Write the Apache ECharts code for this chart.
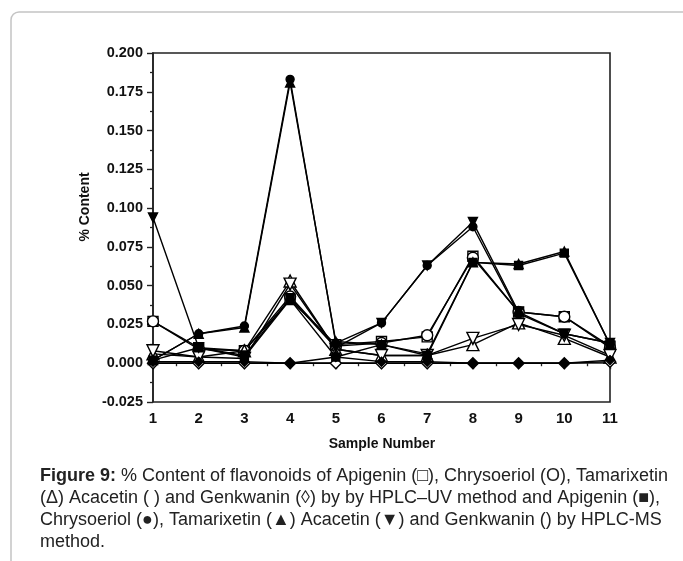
<!DOCTYPE html>
<html><head><meta charset="utf-8">
<script src="https://cdn.jsdelivr.net/npm/echarts@6/dist/echarts.min.js"></script>
<style>html,body{margin:0;padding:0;background:#fff}#c{width:683px;height:561px}</style>
</head><body><div id="c"></div><script>
const samples = [1, 2, 3, 4, 5, 6, 7, 8, 9, 10, 11];
// HPLC-UV (open markers)
const uvApigenin    = [0.027, 0.010, 0.008, 0.041, 0.012, 0.014, 0.017, 0.069, 0.033, 0.030, 0.011];
const uvChrysoeriol = [0.027, 0.009, 0.008, 0.043, 0.011, 0.013, 0.018, 0.068, 0.033, 0.030, 0.010];
const uvTamarixetin = [0.006, 0.004, 0.008, 0.053, 0.009, 0.005, 0.005, 0.012, 0.026, 0.016, 0.004];
const uvAcacetin    = [0.008, 0.004, 0.003, 0.051, 0.009, 0.005, 0.005, 0.016, 0.025, 0.018, 0.005];
const uvGenkwanin   = [0.000, 0.000, 0.000, 0.000, 0.000, 0.000, 0.000, 0.000, 0.000, 0.000, 0.001];
// HPLC-MS (filled markers)
const msApigenin    = [0.002, 0.010, 0.004, 0.041, 0.004, 0.012, 0.005, 0.065, 0.063, 0.071, 0.012];
const msChrysoeriol = [0.002, 0.019, 0.024, 0.183, 0.013, 0.026, 0.063, 0.088, 0.032, 0.019, 0.013];
const msTamarixetin = [0.002, 0.019, 0.023, 0.181, 0.014, 0.012, 0.006, 0.065, 0.064, 0.072, 0.012];
const msAcacetin    = [0.094, 0.010, 0.005, 0.042, 0.010, 0.026, 0.063, 0.091, 0.033, 0.019, 0.013];
const msGenkwanin   = [0.001, 0.001, 0.001, 0.000, 0.004, 0.001, 0.001, 0.000, 0.000, 0.000, 0.002];

const captionLines = [
  '{b|Figure 9:} % Content of flavonoids of Apigenin (□), Chrysoeriol (O), Tamarixetin',
  '(Δ) Acacetin ( ) and Genkwanin (◊) by by HPLC–UV method and Apigenin (■),',
  'Chrysoeriol (●), Tamarixetin (▲) Acacetin (▼) and Genkwanin () by HPLC-MS',
  'method.'
];

const FONT = '"Liberation Sans", Arial, sans-serif';
function mk(name, arr, symbol, filled, size, rot) {
  return {
    name, type: 'line', data: samples.map((s, i) => [s, arr[i]]),
    symbol, symbolSize: size, symbolRotate: rot || 0, showAllSymbol: true,
    lineStyle: { color: '#000', width: 1.4 },
    itemStyle: { color: filled ? '#000' : '#fff', borderColor: '#000', borderWidth: 1.4 },
    z: filled ? 4 : 3, animation: false
  };
}
const chart = echarts.init(document.getElementById('c'), null, { renderer: 'canvas' });
chart.setOption({
  animation: false,
  backgroundColor: '#fff',
  grid: { left: 153, right: 73, top: 53, bottom: 159, show: true, borderColor: '#222', borderWidth: 1.6, backgroundColor: 'transparent' },
  xAxis: {
    type: 'value', min: 1, max: 11, interval: 1,
    axisLine: { show: true, lineStyle: { color: '#222', width: 1.6 } },
    axisTick: { show: true, inside: false, length: 6, lineStyle: { color: '#222', width: 1.4 } },
    minorTick: { show: true, splitNumber: 2, length: 3, lineStyle: { color: '#222', width: 1.3 } },
    splitLine: { show: false },
    axisLabel: { margin: 9, color: '#111', fontSize: 15, fontWeight: 'bold', fontFamily: FONT }
  },
  yAxis: {
    type: 'value', min: -0.025, max: 0.2, interval: 0.025,
    axisLine: { show: true, lineStyle: { color: '#222', width: 1.6 } },
    axisTick: { show: true, inside: false, length: 6, lineStyle: { color: '#222', width: 1.4 } },
    minorTick: { show: true, splitNumber: 2, length: 3, lineStyle: { color: '#222', width: 1.3 } },
    splitLine: { show: false },
    axisLabel: { margin: 10, color: '#111', fontSize: 14.5, fontWeight: 'bold', fontFamily: FONT,
      formatter: v => v.toFixed(3) }
  },
  series: [
    mk('Apigenin (UV)', uvApigenin, 'rect', false, 10),
    mk('Chrysoeriol (UV)', uvChrysoeriol, 'circle', false, 11),
    mk('Tamarixetin (UV)', uvTamarixetin, 'triangle', false, 12),
    mk('Acacetin (UV)', uvAcacetin, 'triangle', false, 12, 180),
    mk('Genkwanin (UV)', uvGenkwanin, 'diamond', false, 11),
    mk('Apigenin (MS)', msApigenin, 'rect', true, 8),
    mk('Chrysoeriol (MS)', msChrysoeriol, 'circle', true, 8),
    mk('Tamarixetin (MS)', msTamarixetin, 'triangle', true, 9),
    mk('Acacetin (MS)', msAcacetin, 'triangle', true, 9, 180),
    mk('Genkwanin (MS)', msGenkwanin, 'diamond', true, 9)
  ],
  graphic: [
    { type: 'rect', shape: { x: 11, y: 12, width: 700, height: 600, r: 8 },
      style: { fill: 'none', stroke: '#c4c4c4', lineWidth: 1.5 }, silent: true, z: -1 },
    { type: 'text', x: 85, y: 207, rotation: Math.PI / 2,
      style: { text: '% Content', fill: '#111', font: 'bold 14px ' + FONT, textAlign: 'center', textVerticalAlign: 'middle' } },
    { type: 'text', x: 382, y: 444,
      style: { text: 'Sample Number', fill: '#111', font: 'bold 14px ' + FONT, textAlign: 'center', textVerticalAlign: 'middle' } },
    ...captionLines.map((t, i) => ({
      type: 'text', x: 40, y: 476 + i * 22,
      style: { text: t, fill: '#222', font: '18px ' + FONT, textAlign: 'left', textVerticalAlign: 'middle',
        rich: { b: { font: 'bold 18px ' + FONT, fill: '#222' } } }
    }))
  ]
});
</script></body></html>
